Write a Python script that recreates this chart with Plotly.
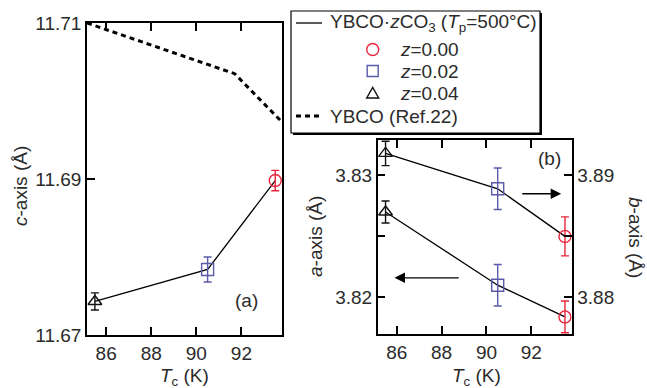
import plotly.graph_objects as go

# ---------------- data ----------------
z_labels = ["z=0.00", "z=0.02", "z=0.04"]
z_colors = ["#e8243a", "#5a5aa8", "#111111"]
z_symbols = ["circle-open", "square-open", "triangle-up-open"]
tc = [93.5, 90.5, 85.5]
c_axis = [11.6898, 11.6784, 11.6743]
c_err = [0.0013, 0.0016, 0.0011]
a_axis = [3.8184, 3.8210, 3.8270]
a_err = [0.0013, 0.0017, 0.0009]
b_axis = [3.8850, 3.8889, 3.8918]
b_err = [0.0016, 0.0017, 0.0010]
ref_tc = [85.15, 91.7, 93.8]
ref_c = [11.7100, 11.7035, 11.6973]

W, H = 647, 388
FONT = "Liberation Sans, Arial, sans-serif"
TXT = "#2b2b2b"


def px(x):
    return x / W


def py(y):
    return 1 - y / H


fig = go.Figure()

# connecting lines
fig.add_trace(go.Scatter(x=tc, y=c_axis, mode="lines", line=dict(color="black", width=1.3),
                         xaxis="x", yaxis="y", name="YBCO·zCO3 (Tp=500°C)"))
fig.add_trace(go.Scatter(x=tc, y=a_axis, mode="lines", line=dict(color="black", width=1.3),
                         xaxis="x2", yaxis="y2", name="a-axis"))
fig.add_trace(go.Scatter(x=tc, y=b_axis, mode="lines", line=dict(color="black", width=1.3),
                         xaxis="x2", yaxis="y3", name="b-axis"))
# reference
fig.add_trace(go.Scatter(x=ref_tc, y=ref_c, mode="lines",
                         line=dict(color="black", width=3, dash="5px,4px"),
                         xaxis="x", yaxis="y", name="YBCO (Ref.22)"))

for i in range(3):
    for vals, errs, xa, ya in ((c_axis, c_err, "x", "y"), (a_axis, a_err, "x2", "y2"),
                               (b_axis, b_err, "x2", "y3")):
        fig.add_trace(go.Scatter(
            x=[tc[i]], y=[vals[i]], mode="markers", name=z_labels[i],
            marker=dict(symbol=z_symbols[i], size=12, color=z_colors[i],
                        line=dict(width=1.4, color=z_colors[i])),
            error_y=dict(type="data", array=[errs[i]], color=z_colors[i], thickness=1.4, width=4),
            xaxis=xa, yaxis=ya))

axis_common = dict(showline=True, linecolor="black", linewidth=1.5, ticks="inside",
                   ticklen=8, tickwidth=1.5, tickcolor="black", showgrid=False, zeroline=False,
                   automargin=False,
                   tickfont=dict(size=19, color=TXT, family=FONT))

fig.update_layout(
    template="none",
    width=W, height=H, autosize=False,
    margin=dict(l=0, r=0, t=0, b=0, pad=0, autoexpand=False),
    paper_bgcolor="white", plot_bgcolor="white",
    showlegend=False,
    font=dict(family=FONT, size=19, color=TXT),
    xaxis=dict(domain=[px(87), px(282)], range=[85.15, 93.8], tick0=86, dtick=2,
               anchor="y", mirror="ticks", **axis_common),
    yaxis=dict(domain=[py(335), py(23)], range=[11.67, 11.71], tick0=11.67, dtick=0.02,
               tickformat=".2f", anchor="x", mirror=True, **axis_common),
    xaxis2=dict(domain=[px(377.7), px(571.7)], range=[85.15, 93.8], tick0=86, dtick=2,
                anchor="y2", mirror="ticks", **axis_common),
    yaxis2=dict(domain=[py(334), py(140)], range=[3.8170, 3.8329], tick0=3.82, dtick=0.01,
                tickformat=".2f", anchor="x2",
                minor=dict(dtick=0.005, ticks="inside", ticklen=8, tickwidth=1.5, tickcolor="black"),
                **axis_common),
    yaxis3=dict(range=[3.8770, 3.8929], tick0=3.88, dtick=0.01, tickformat=".2f",
                overlaying="y2", side="right", anchor="x2",
                minor=dict(dtick=0.005, ticks="inside", ticklen=8, tickwidth=1.5, tickcolor="black"),
                **axis_common),
)

ann = []


def text(x, y, t, angle=0, xanchor="center"):
    ann.append(dict(x=px(x), y=py(y), xref="paper", yref="paper", text=t, showarrow=False,
                    textangle=angle, xanchor=xanchor, yanchor="middle",
                    font=dict(size=19, color=TXT, family=FONT)))


text(20, 186, "<i>c</i>-axis (Å)", angle=-90)
text(184, 377, "<i>T</i><sub>c</sub> (K)")
text(476, 377, "<i>T</i><sub>c</sub> (K)")
text(315, 237, "<i>a</i>-axis (Å)", angle=-90)
text(636, 237, "<i>b</i>-axis (Å)", angle=90)
text(246, 300, "(a)")
text(549, 158, "(b)")

# legend text
text(328, 23, "YBCO·<i>z</i>CO<sub>3</sub> (<i>T</i><sub>p</sub>=500°C)", xanchor="left")
text(398, 49.5, "<i>z</i>=0.00", xanchor="left")
text(398, 71, "<i>z</i>=0.02", xanchor="left")
text(398, 93, "<i>z</i>=0.04", xanchor="left")
text(328, 116, "YBCO (Ref.22)", xanchor="left")

# arrows
ann.append(dict(xref="x2", yref="y2", axref="x2", ayref="y2", x=93.33, y=3.8285, ax=91.53, ay=3.8285,
                text="", showarrow=True, arrowhead=2, arrowsize=1.5, arrowwidth=1.4, arrowcolor="black"))
ann.append(dict(xref="x2", yref="y2", axref="x2", ayref="y2", x=85.9, y=3.8216, ax=88.83, ay=3.8216,
                text="", showarrow=True, arrowhead=2, arrowsize=1.5, arrowwidth=1.4, arrowcolor="black"))
fig.update_layout(annotations=ann)

shapes = [
    dict(type="rect", xref="paper", yref="paper", x0=px(293), x1=px(542), y0=py(135), y1=py(13),
         fillcolor="black", line=dict(width=0)),
    dict(type="rect", xref="paper", yref="paper", x0=px(291), x1=px(540), y0=py(133), y1=py(11),
         fillcolor="white", line=dict(color="black", width=1.2)),
    dict(type="line", xref="paper", yref="paper", x0=px(296), x1=px(322), y0=py(23), y1=py(23),
         line=dict(color="black", width=1.3)),
    dict(type="line", xref="paper", yref="paper", x0=px(296), x1=px(323), y0=py(116), y1=py(116),
         line=dict(color="black", width=3, dash="5px,4px")),
    dict(type="circle", xref="paper", yref="paper", x0=px(366.7), x1=px(378.7), y0=py(55.5), y1=py(43.5),
         line=dict(color=z_colors[0], width=1.4)),
    dict(type="rect", xref="paper", yref="paper", x0=px(367.2), x1=px(378.2), y0=py(76.5), y1=py(65.5),
         line=dict(color=z_colors[1], width=1.4)),
    dict(type="path", xref="paper", yref="paper",
         path=f"M {px(366.7)} {py(98)} L {px(378.7)} {py(98)} L {px(372.7)} {py(87.5)} Z",
         line=dict(color=z_colors[2], width=1.4)),
]
fig.update_layout(shapes=shapes)

fig.write_html("out.html", config={"displayModeBar": False},
               post_script="document.body.style.margin='0px';document.body.style.overflow='hidden';")
